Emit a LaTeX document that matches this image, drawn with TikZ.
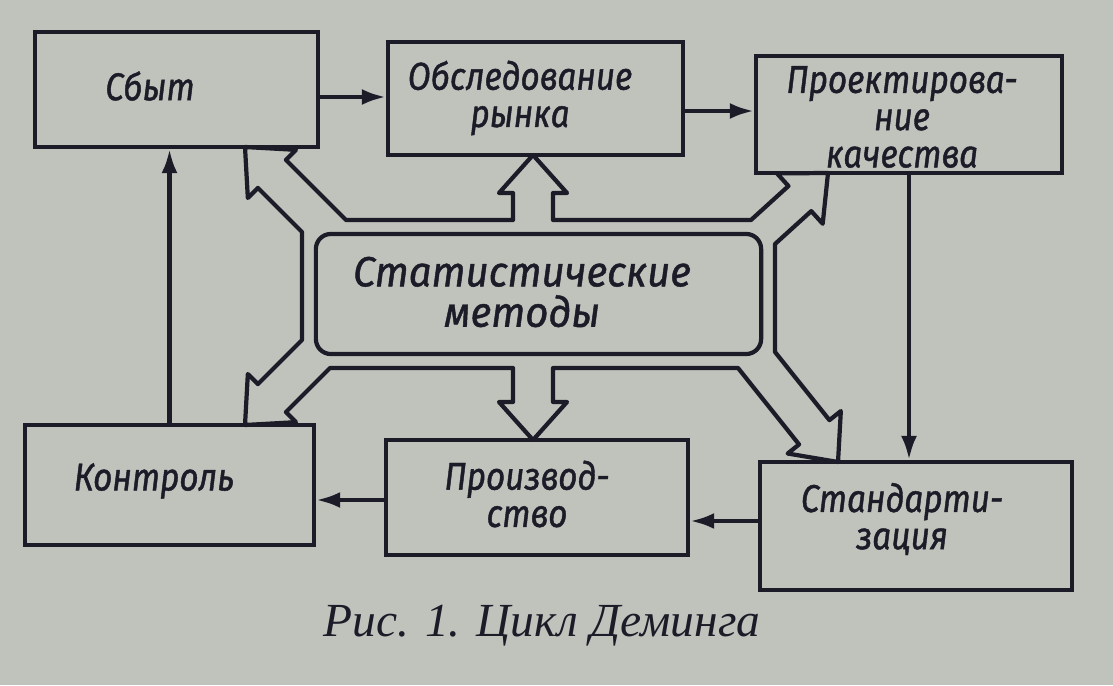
\documentclass[tikz,border=0pt]{standalone}
\usepackage{fontspec}
\usetikzlibrary{calc,arrows.meta}
\newfontfamily\gostfont[FakeStretch=0.86,FakeBold=1.1]{Fira Sans}
\newfontfamily\gostwide[FakeStretch=0.95,FakeBold=1.1]{Fira Sans}
\newfontfamily\capfont{Liberation Serif}
\definecolor{paper}{RGB}{192,194,188}
\definecolor{ink}{RGB}{28,28,40}
\newcommand\armh{0.38cm}
\newcommand\armb{0.34cm}
% #1 name, #2 tip, #3 base point P, #4 base point Q
\newcommand\mkarm[4]{%
  \coordinate (#1T) at #2;
  \coordinate (#1P) at #3;
  \coordinate (#1Q) at #4;
  \coordinate (#1C) at ($(#1P)!0.5!(#1Q)$);
  \coordinate (#1M) at ($(#1T)!\armh!(#1C)$);
  \coordinate (#1Pp) at ($(#1T)!(#1P)!(#1C)$);
  \coordinate (#1Qp) at ($(#1T)!(#1Q)!(#1C)$);
  \coordinate (#1NP) at ($(#1M)+(#1P)-(#1Pp)$);
  \coordinate (#1NQ) at ($(#1M)+(#1Q)-(#1Qp)$);
  \coordinate (#1BP) at ($(#1M)!\armb!(#1NP)$);
  \coordinate (#1BQ) at ($(#1M)!\armb!(#1NQ)$);
}
\begin{document}
\begin{tikzpicture}[x=0.01cm,y=-0.01cm,
  box/.style={draw=ink, line width=1.2pt, inner sep=0pt},
  lbl/.style={font=\gostfont\itshape\fontsize{11pt}{10.6pt}\selectfont, text=ink, align=center, inner sep=0pt},
  biglbl/.style={font=\gostwide\itshape\fontsize{12pt}{11.5pt}\selectfont, text=ink, align=center, inner sep=0pt},
  conn/.style={draw=ink, line width=1.2pt, -{Latex[length=0.24cm,width=0.16cm]}},
  outl/.style={draw=ink, line width=1.2pt, line join=round}]
\useasboundingbox (0,0) rectangle (1113,685);
\fill[paper] (0,0) rectangle (1113,685);

% boxes
\node[box, minimum width=2.83cm, minimum height=1.15cm] (sbyt) at (176.5,89.5) {};
\node[box, minimum width=2.95cm, minimum height=1.13cm] (obsl) at (535.5,98.5) {};
\node[box, minimum width=3.06cm, minimum height=1.17cm] (proekt) at (909,114.5) {};
\node[box, minimum width=2.89cm, minimum height=1.20cm] (kontrol) at (169.5,485) {};
\node[box, minimum width=3.02cm, minimum height=1.15cm] (proizv) at (537,497.5) {};
\node[box, minimum width=3.12cm, minimum height=1.28cm] (stand) at (916,526) {};
\node[box, rounded corners=0.15cm, minimum width=4.45cm, minimum height=1.20cm] (stat) at (538.5,294) {};

% texts
\node[lbl] (sbyt-t) at (150,86) {Сбыт};
\node[lbl] (obsl-t) at (520,98) {Обследование\\рынка};
\node[lbl] (proekt-t) at (902,117) {Проектирова-\\ние\\качества};
\node[biglbl] (stat-t) at (522,292) {Статистические\\методы};
\node[lbl] (kontrol-t) at (154,481) {Контроль};
\node[lbl] (proizv-t) at (527,494) {Производ-\\ство};
\node[lbl] (stand-t) at (902,519) {Стандарти-\\зация};

% connectors
\coordinate (c1) at ([yshift=-0.075cm]sbyt.east);
\draw[conn] (c1) -- (c1 -| obsl.west);
\coordinate (c2) at ([yshift=-0.125cm]obsl.east);
\draw[conn] (c2) -- (c2 -| proekt.west);
\draw[conn] (proekt.south) -- (proekt.south |- stand.north);
\coordinate (c4) at ([yshift=0.05cm]stand.west);
\draw[conn] (c4) -- (c4 -| proizv.east);
\coordinate (c5) at ([yshift=-0.025cm]proizv.west);
\draw[conn] (c5) -- (c5 -| kontrol.east);
\draw[conn] (kontrol.north) -- (kontrol.north |- sbyt.south);

% hollow arrow network around the central box
\mkarm{a}{(245,147)}{(302,232)}{(346,220)}
\mkarm{b}{(533,155)}{(513,220)}{(553,220)}
\mkarm{c}{(828,173)}{(751,220)}{(775,244)}
\mkarm{d}{(838,462)}{(775,352)}{(738,368)}
\mkarm{e}{(533,440)}{(553,368)}{(513,368)}
\mkarm{f}{(245,425)}{(330,368)}{(302,340)}
\draw[outl]
  (aP) -- (aNP) -- (aBP) -- (aT) -- (aBQ) -- (aNQ) -- (aQ)
  -- (bP) -- (bNP) -- (bBP) -- (bT) -- (bBQ) -- (bNQ) -- (bQ)
  -- (cP) -- (cNP) -- (cBP) -- (cT) -- (cBQ) -- (cNQ) -- (cQ)
  -- (dP) -- (dNP) -- (dBP) -- (dT) -- (dBQ) -- (dNQ) -- (dQ)
  -- (eP) -- (eNP) -- (eBP) -- (eT) -- (eBQ) -- (eNQ) -- (eQ)
  -- (fP) -- (fNP) -- (fBP) -- (fT) -- (fBQ) -- (fNQ) -- (fQ)
  -- cycle;

% caption
\node[font=\capfont\itshape\fontsize{13.5pt}{14pt}\selectfont, text=ink, inner sep=0pt] (cap) at (542,626) {Рис. 1. Цикл Деминга};
\end{tikzpicture}
\end{document}
